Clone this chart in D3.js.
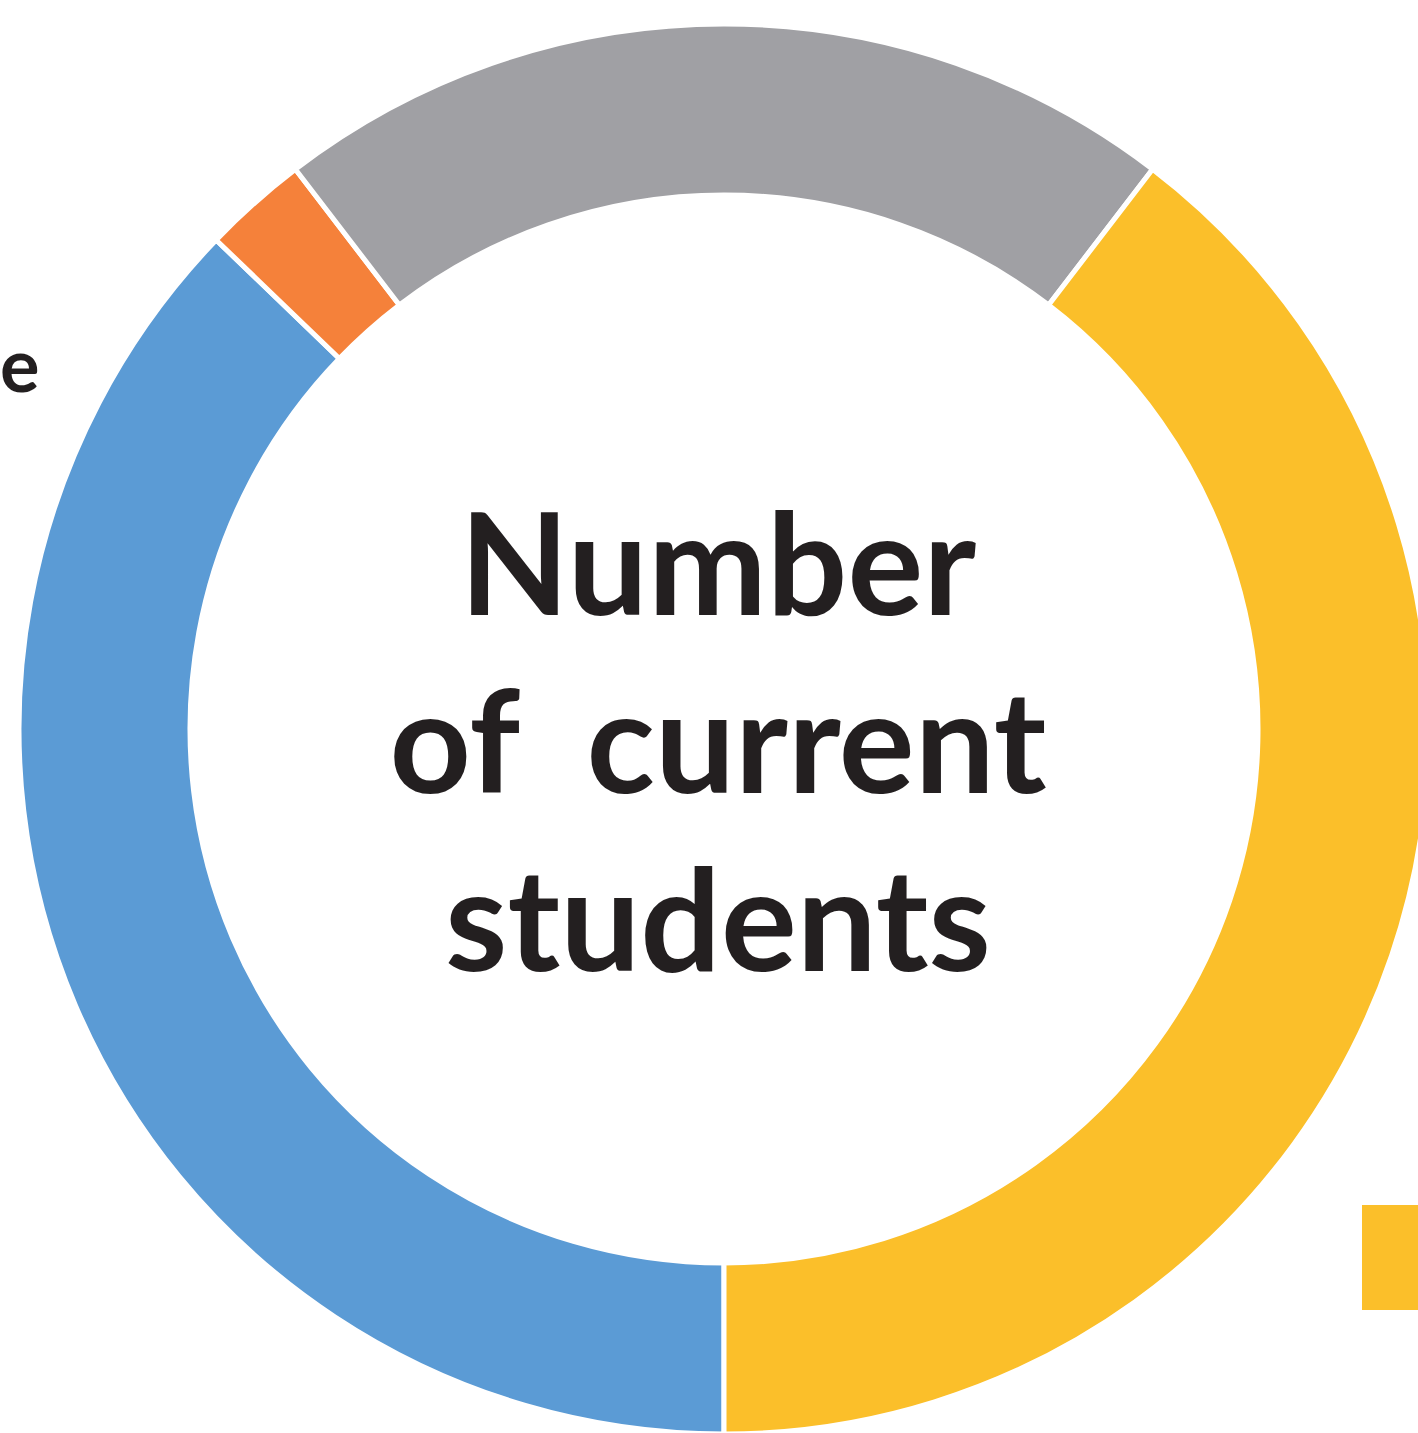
<!DOCTYPE html>
<html>
<head>
<meta charset="utf-8">
<script src="https://cdn.jsdelivr.net/npm/d3@7"></script>
<style>
  html, body { margin: 0; padding: 0; background: #ffffff; overflow: hidden; }
</style>
</head>
<body>
<div id="chart"></div>
<script>
// segments, clockwise from the bottom of the ring
const categories = ["blue", "orange", "gray", "yellow"];
const shares = [37.2, 2.4, 20.8, 39.6];
const colours = ["#5b9bd5", "#f5813a", "#a0a0a4", "#fbbf2a"];
const centreLines = ["Number", "of\u00a0\u00a0current", "students"];
const sideLabel = "e";

const drawChart = function(){
    const width = 1418, height = 1433;
    const cx = 724, cy = 729;
    const outer = 705, inner = 534;

    const svg = d3.select("#chart")
        .append("svg")
        .attr("width", width)
        .attr("height", height);

    const pie = d3.pie()
        .sort(null)
        .value(d => d.value)
        .startAngle(Math.PI)
        .endAngle(3 * Math.PI);

    const arc = d3.arc()
        .innerRadius(inner)
        .outerRadius(outer);

    const data = categories.map((c, i) => ({ name: c, value: shares[i], colour: colours[i] }));

    const ring = svg.append("g")
        .attr("transform", `translate(${cx},${cy})`);

    ring.selectAll(".slice")
        .data(pie(data))
        .enter()
        .append("path")
        .attr("class", "slice")
        .attr("d", arc)
        .attr("fill", d => d.data.colour)
        .attr("stroke", "#ffffff")
        .attr("stroke-width", 5);

    ring.selectAll(".centre")
        .data(centreLines)
        .enter()
        .append("text")
        .attr("class", "centre")
        .attr("x", -6)
        .attr("y", (d, i) => -114 + i * 178)
        .attr("text-anchor", "middle")
        .style("font-family", "Lato, 'Open Sans', sans-serif")
        .style("font-weight", 700)
        .style("font-size", "142px")
        .attr("fill", "#231f20")
        .text(d => d);

    // label cut off at the left edge in the source
    svg.append("text")
        .attr("x", 0)
        .attr("y", 392)
        .style("font-family", "Lato, 'Open Sans', sans-serif")
        .style("font-weight", 700)
        .style("font-size", "74px")
        .attr("fill", "#231f20")
        .text(sideLabel);

    // legend swatch cut off at the right edge
    svg.append("rect")
        .attr("x", 1362)
        .attr("y", 1205)
        .attr("width", 70)
        .attr("height", 105)
        .attr("fill", colours[3]);
}

window.onload = function(){
    drawChart();
}
</script>
</body>
</html>
